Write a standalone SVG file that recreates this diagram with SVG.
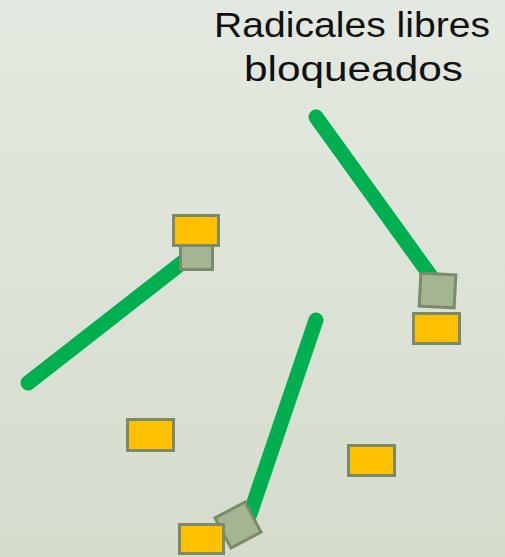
<svg xmlns="http://www.w3.org/2000/svg" width="505" height="557" viewBox="0 0 505 557">
<defs>
<linearGradient id="bg" x1="0" y1="0" x2="0" y2="1">
<stop offset="0" stop-color="#e4e9e1"/>
<stop offset="1" stop-color="#d5dccc"/>
</linearGradient>
<style>
.chain{stroke:#00b050;stroke-width:15;stroke-linecap:round;fill:none}
.rad{fill:#a5b493;stroke:#7a8a6b;stroke-width:3}
.anti{fill:#ffc000;stroke:#7a8a6b;stroke-width:3}
.lbl{font-family:"Liberation Sans",Arial,sans-serif;font-size:35px;fill:#111;text-anchor:middle}
</style>
</defs>
<rect width="505" height="557" fill="url(#bg)"/>
<g id="connectors">
<line class="chain" x1="28" y1="383" x2="188" y2="258"/>
<line class="chain" x1="316" y1="117" x2="435" y2="282"/>
<line class="chain" x1="316" y1="320" x2="250" y2="514"/>
</g>
<g id="label">
<text class="lbl" x="352" y="37" textLength="276" lengthAdjust="spacingAndGlyphs">Radicales libres</text>
<text class="lbl" x="353.5" y="81" textLength="219" lengthAdjust="spacingAndGlyphs">bloqueados</text>
</g>
<g id="radical1">
<rect class="rad" x="180.5" y="237.5" width="32" height="32"/>
<rect class="anti" x="173.5" y="215.5" width="45" height="30"/>
</g>
<g id="radical2">
<rect class="rad" x="420" y="274" width="35" height="33" transform="rotate(3 437.5 290.5)"/>
<rect class="anti" x="413.5" y="313.5" width="46" height="30"/>
</g>
<g id="radical3">
<rect class="rad" x="221" y="508" width="34" height="34" transform="rotate(-28 238 525)"/>
<rect class="anti" x="179.5" y="524.5" width="44" height="29"/>
</g>
<g id="antioxidant4">
<rect class="anti" x="127.5" y="419.5" width="46" height="31"/>
</g>
<g id="antioxidant5">
<rect class="anti" x="348.5" y="445.5" width="46" height="30"/>
</g>
</svg>
